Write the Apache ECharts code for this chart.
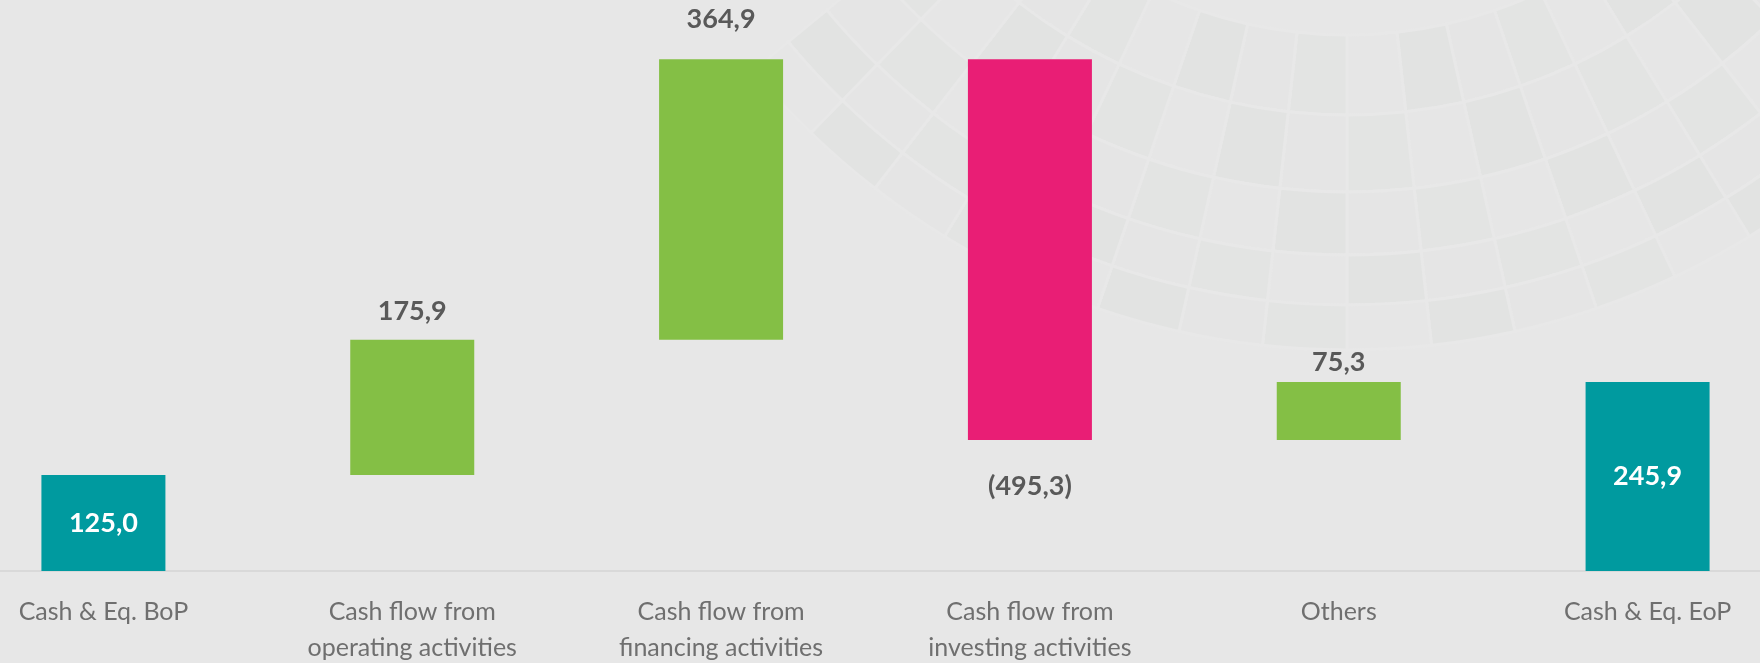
<!DOCTYPE html>
<html>
<head>
<meta charset="utf-8">
<script src="https://cdn.jsdelivr.net/npm/echarts@6/dist/echarts.min.js"></script>
<style>
  html, body { margin: 0; padding: 0; background: #e7e7e7; }
  #chart { width: 1760px; height: 663px; }
</style>
</head>
<body>
<div id="chart"></div>
<script>
const categories = [
    'Cash & Eq. BoP',
    'Cash flow from\noperating activities',
    'Cash flow from\nfinancing activities',
    'Cash flow from\ninvesting activities',
    'Others',
    'Cash & Eq. EoP',
];
const values = [125.0, 175.9, 364.9, -495.3, 75.3, 245.9];
const isTotal = [true, false, false, false, false, true];
const labelGap = [0, 15, 26, 33, 6, 0];

const TEAL = '#009a9f';
const GREEN = '#84bf45';
const PINK = '#e91e75';

// running totals for the invisible base of each step
const baseData = [];
const barData = [];
let running = 0;
values.forEach((v, i) => {
    if (isTotal[i]) {
        baseData.push(0);
        running = v;
    } else if (v >= 0) {
        baseData.push(running);
        running += v;
    } else {
        running += v;
        baseData.push(running);
    }
    const color = isTotal[i] ? TEAL : (v >= 0 ? GREEN : PINK);
    barData.push({
        value: Math.abs(v),
        raw: v,
        itemStyle: { color: color },
        label: isTotal[i]
            ? { position: 'inside', color: '#ffffff' }
            : { position: v >= 0 ? 'top' : 'bottom', distance: labelGap[i], color: '#595959' },
    });
});

const fmt = (v) => {
    const s = Math.abs(v).toFixed(1).replace('.', ',');
    return v < 0 ? '(' + s + ')' : s;
};

// faint decorative fan in the background
const deco = [];
const tones = ['#e3e4e3', '#e5e5e5', '#e2e3e2', '#e6e6e6'];
const cx = 1347, cy = -420;
const radii = [455, 535, 612, 675, 725, 770];
for (let r = 0; r < radii.length - 1; r++) {
    for (let k = -8; k < 8; k++) {
        const a0 = Math.PI / 2 + k * 0.11;
        deco.push({
            type: 'sector',
            silent: true,
            z: -10,
            shape: { cx: cx, cy: cy, r0: radii[r], r: radii[r + 1], startAngle: a0, endAngle: a0 + 0.11 },
            style: { fill: tones[(r + k + 16) % tones.length], stroke: '#e8e8e8', lineWidth: 3 },
        });
    }
}
for (let r = 0; r < 3; r++) {
    for (let k = 0; k < 4; k++) {
        const a0 = Math.PI * 0.78 + k * 0.09;
        deco.push({
            type: 'sector',
            silent: true,
            z: -10,
            shape: { cx: 700, cy: -520, r0: 560 + r * 60, r: 620 + r * 60, startAngle: a0, endAngle: a0 + 0.09 },
            style: { fill: tones[(r + k) % tones.length], stroke: '#e8e8e8', lineWidth: 3 },
        });
    }
}

const chart = echarts.init(document.getElementById('chart'));
chart.setOption({
    backgroundColor: '#e7e7e7',
    animation: false,
    textStyle: { fontFamily: 'Lato, "Open Sans", sans-serif' },
    graphic: deco,
    grid: { left: -51, right: -42, top: 33, bottom: 92, outerBoundsMode: 'none' },
    xAxis: {
        type: 'category',
        data: categories,
        axisLine: { lineStyle: { color: '#d9d9d9', width: 2 } },
        axisTick: { show: false },
        axisLabel: {
            color: '#6f6f6f',
            fontSize: 25,
            lineHeight: 36,
            margin: 23,
            interval: 0,
        },
    },
    yAxis: {
        type: 'value',
        min: 0,
        max: 700,
        show: false,
        splitLine: { show: false },
    },
    series: [
        {
            type: 'bar',
            stack: 'wf',
            barWidth: 124,
            silent: true,
            itemStyle: { color: 'transparent' },
            data: baseData,
        },
        {
            type: 'bar',
            stack: 'wf',
            barWidth: 124,
            label: {
                show: true,
                fontSize: 27,
                fontWeight: 'bold',
                formatter: (p) => fmt(p.data.raw),
            },
            data: barData,
        },
    ],
});
</script>
</body>
</html>
